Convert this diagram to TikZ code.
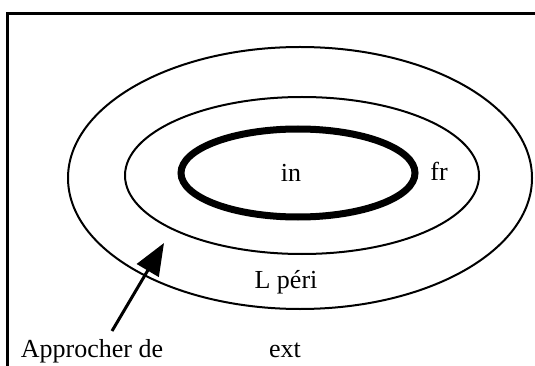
\documentclass[tikz,border=0pt]{standalone}
\usepackage{fontspec}
\setmainfont{Liberation Serif}
\usetikzlibrary{arrows.meta}
\tikzset{
  ring/.style={line width=2pt},
  core/.style={line width=7pt},
  lbl/.style={font=\fontsize{26}{30}\selectfont, inner sep=0pt},
  pointer/.style={line width=3pt, -{Triangle[length=32pt, width=25pt]}}
}
\begin{document}
\begin{tikzpicture}[x=1pt, y=-1pt]
    \useasboundingbox (0,0) rectangle (535,366);
    % frame (only top and left sides fall inside the page)
    \draw[line width=3pt] (7,400) -- (7,13.5) -- (560,13.5);
    % zones
    \draw[ring] (300,178) ellipse [x radius=232, y radius=131];
    \draw[ring] (302,175.5) ellipse [x radius=177, y radius=78.5];
    \draw[core] (298,173) ellipse [x radius=117, y radius=44];
    % labels
    \node[lbl] (in) at (291,173) {in};
    \node[lbl] (fr) at (439,171) {fr};
    \node[lbl] (peri) at (286,282) {L péri};
    \node[lbl] (ext) at (285,350) {ext};
    \node[lbl] (appr) at (92,351) {Approcher de};
    \coordinate (tail) at (112,331);
    \coordinate (tip) at (164,243);
    \draw[pointer] (tail) -- (tip);
\end{tikzpicture}
\end{document}
